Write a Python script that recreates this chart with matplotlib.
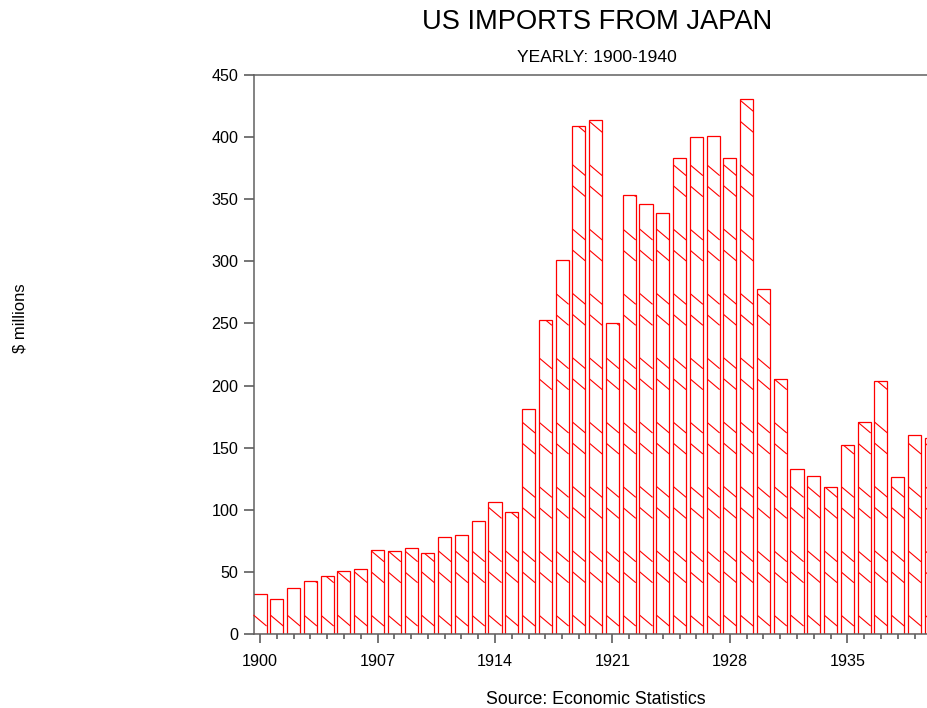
import matplotlib
matplotlib.use("Agg")
import matplotlib.pyplot as plt
from matplotlib.collections import LineCollection
from matplotlib.ticker import MultipleLocator

# yearly imports, $ millions
years = list(range(1900, 1941))
imports = [32, 28, 37, 43, 47, 51, 52, 68, 67, 69, 65, 78, 80, 91, 106, 98,
           181, 253, 301, 409, 414, 250, 353, 346, 339, 383, 400, 401, 383, 431,
           278, 205, 133, 127, 118, 152, 171, 204, 126, 160, 158]
year_ticks = list(range(1900, 1941, 7))
y_ticks = list(range(0, 451, 50))

plt.rcParams['font.family'] = ['Liberation Sans', 'DejaVu Sans']

DPI = 200
fig = plt.figure(figsize=(928 / DPI, 708 / DPI), dpi=DPI)
ax = fig.add_axes([254 / 928, 1 - 634 / 708, 684 / 928, 559 / 708])

BAR_W = 0.78
bars = ax.bar(years, imports, width=BAR_W, facecolor='white',
              edgecolor='#ff0000', linewidth=0.45, zorder=2)

# the old-style hatch: short diagonal strokes at the same heights in every bar
period = 51.8   # y units between repeats
starts = [15.3, 50.2]
drop = 8.9
levels = [s + period * k for k in range(10) for s in starts]
for yr, patch in zip(years, bars.patches):
    x0, x1 = yr - BAR_W / 2, yr + BAR_W / 2
    segs = [[(x0, lv), (x1, lv - drop)] for lv in levels]
    lc = LineCollection(segs, colors='#ff0000', linewidths=0.4, zorder=3)
    ax.add_collection(lc)
    lc.set_clip_path(patch)

ax.set_xlim(1899.64, 1940.4)
ax.set_ylim(0, 450)
ax.set_xticks(year_ticks)
ax.xaxis.set_minor_locator(MultipleLocator(1))
ax.set_yticks(y_ticks)

ax.spines['right'].set_visible(False)
for side in ['left', 'top', 'bottom']:
    ax.spines[side].set_color('#606060')
    ax.spines[side].set_linewidth(0.55)

ax.tick_params(axis='both', which='major', direction='out', color='#505050',
               width=0.55, labelsize=5.8)
ax.tick_params(axis='y', which='major', length=3.6, pad=2.0)
ax.tick_params(axis='x', which='major', length=3.4, pad=3.9)
ax.tick_params(axis='x', which='minor', length=1.7, width=0.55, color='#505050')

fig.text(597 / 928, 1 - 22 / 708, 'US IMPORTS FROM JAPAN', ha='center',
         va='center', fontsize=9.8)
fig.text(597 / 928, 1 - 57 / 708, 'YEARLY: 1900-1940', ha='center',
         va='center', fontsize=6.3)
fig.text(20 / 928, 1 - 318 / 708, '$ millions', ha='center', va='center',
         rotation=90, fontsize=6.0)
fig.text(596 / 928, 1 - 700 / 708, 'Source: Economic Statistics', ha='center',
         va='center', fontsize=6.4)

fig.savefig('out.png', dpi=DPI)
